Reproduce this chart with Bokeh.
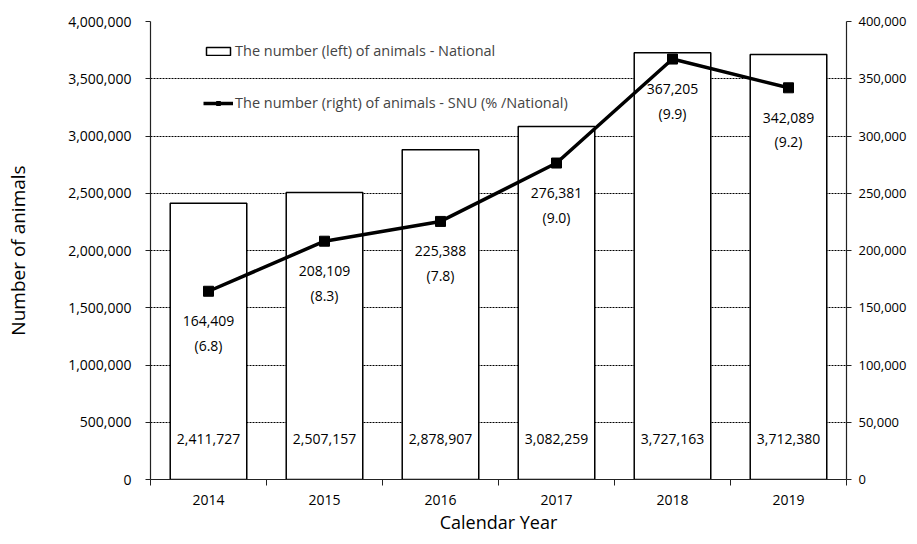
from bokeh.plotting import figure
from bokeh.models import (Range1d, LinearAxis, FixedTicker, NumeralTickFormatter,
                          ColumnDataSource, Legend, LegendItem)
from bokeh.embed import file_html
from bokeh.resources import INLINE
from bokeh.core.properties import value

years = ["2014", "2015", "2016", "2017", "2018", "2019"]
national = [2411727, 2507157, 2878907, 3082259, 3727163, 3712380]
snu = [164409, 208109, 225388, 276381, 367205, 342089]
snu_pct = [6.8, 8.3, 7.8, 9.0, 9.9, 9.2]
left_ticks = [0, 500000, 1000000, 1500000, 2000000, 2500000, 3000000, 3500000, 4000000]
right_ticks = [0, 50000, 100000, 150000, 200000, 250000, 300000, 350000, 400000]

FONT = "Open Sans"
INK = "#222222"

xs = [i + 0.5 for i in range(len(years))]
bounds = [float(i) for i in range(len(years) + 1)]

src = ColumnDataSource(dict(
    x=xs, national=national, snu=snu,
    nat_lbl=[f"{v:,}" for v in national],
    snu_lbl=[f"{v:,}" for v in snu],
    pct_lbl=[f"({v:.1f})" for v in snu_pct],
))

p = figure(width=909, height=536, output_backend="svg", toolbar_location=None,
           x_range=Range1d(0, len(years)), y_range=Range1d(left_ticks[0], left_ticks[-1]),
           min_border_left=150, min_border_right=55, min_border_top=21, min_border_bottom=50)
p.extra_y_ranges = {"right": Range1d(right_ticks[0], right_ticks[-1])}
p.outline_line_color = None
p.background_fill_color = "white"
p.border_fill_color = "white"

# x axis
xa = p.xaxis[0]
xa.ticker = FixedTicker(ticks=xs, minor_ticks=bounds)
xa.major_label_overrides = {x: y for x, y in zip(xs, years)}
xa.major_tick_out = 0
xa.major_tick_in = 0
xa.minor_tick_out = 6
xa.minor_tick_in = 0
xa.minor_tick_line_color = INK
xa.major_label_standoff = 9
xa.axis_label = "Calendar Year"
xa.axis_label_standoff = 2

# left axis
ya = p.yaxis[0]
ya.ticker = FixedTicker(ticks=left_ticks)
ya.formatter = NumeralTickFormatter(format="0,0")
ya.major_tick_out = 5
ya.major_tick_in = 0
ya.major_label_standoff = 14
ya.axis_label = "Number of animals"
ya.axis_label_standoff = 34

# right axis
ra = LinearAxis(y_range_name="right", ticker=FixedTicker(ticks=right_ticks),
                formatter=NumeralTickFormatter(format="0,0"))
ra.major_tick_out = 5
ra.major_tick_in = 0
ra.minor_tick_out = 0
ra.major_label_standoff = 7
p.add_layout(ra, "right")

for ax in [xa, ya, ra]:
    ax.axis_line_color = INK
    ax.axis_line_width = 1.2
    ax.major_tick_line_color = INK
    ax.major_label_text_font = FONT
    ax.major_label_text_font_size = "14px"
    ax.major_label_text_color = "black"
    ax.axis_label_text_font = FONT
    ax.axis_label_text_font_size = "19px"
    ax.axis_label_text_font_style = "normal"
    ax.axis_label_text_color = "black"
ra.major_label_text_font_size = "13px"
xa.axis_label_text_font_size = "18px"

p.xgrid.visible = False
p.ygrid.ticker = FixedTicker(ticks=left_ticks)
p.ygrid.grid_line_color = "black"
p.ygrid.grid_line_dash = "2 1"
p.ygrid.grid_line_width = 1

r_bar = p.vbar(x="x", top="national", width=0.66, fill_color="white",
               line_color="black", line_width=1.5, source=src)
r_line = p.line(x="x", y="snu", y_range_name="right", line_width=3.5,
                line_color="black", source=src)
r_pts = p.scatter(x="x", y="snu", y_range_name="right", marker="square", size=10,
                  fill_color="black", line_color="black", source=src)

tfont = dict(text_font=value(FONT), text_font_size="14px", text_color="black",
             text_align="center", text_baseline="middle")
p.text(x="x", y=0, text="nat_lbl", y_offset=-41, source=src, **tfont)
p.text(x="x", y="snu", text="snu_lbl", y_range_name="right", y_offset=30, source=src, **tfont)
p.text(x="x", y="snu", text="pct_lbl", y_range_name="right", y_offset=54, source=src, **tfont)

legend = Legend(items=[
    LegendItem(label="The number (left) of animals - National", renderers=[r_bar]),
    LegendItem(label="The number (right) of animals - SNU (% /National)", renderers=[r_line, r_pts]),
], location=(53, 367))
legend.border_line_color = None
legend.background_fill_alpha = 0
legend.glyph_width = 30
legend.glyph_height = 10
legend.label_text_font = FONT
legend.label_text_font_size = "14.5px"
legend.label_standoff = 2
legend.spacing = 33
legend.padding = 0
legend.margin = 0
p.add_layout(legend)

open("out.html", "w").write(file_html(p, INLINE))
